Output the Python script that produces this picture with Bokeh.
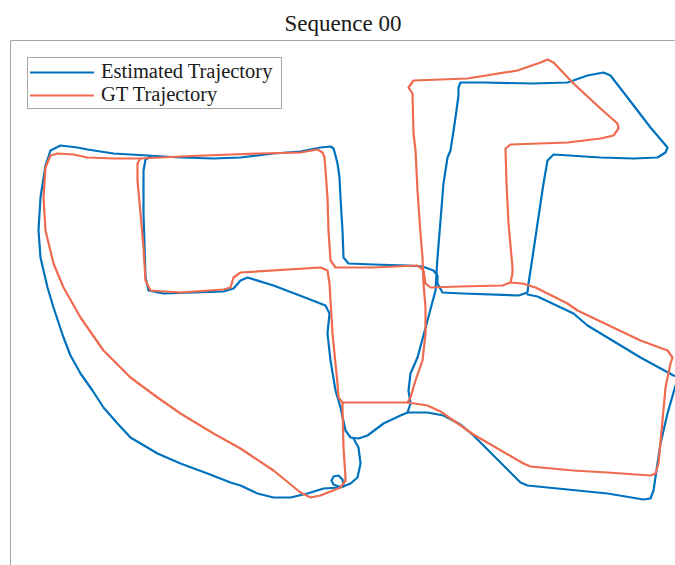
from bokeh.plotting import figure
from bokeh.models import ColumnDataSource, Range1d, Span
from bokeh.embed import file_html
from bokeh.resources import INLINE

# ---- Estimated trajectory (x, z in metres) ----
est_outer_x = [13, 18, 20, 17, 10, 0, -17, -33, -50, -67, -83, -100, -110, -133, -160, -183, -210, -223, -237, -248,
               -260, -270, -277,
               -287, -293, -300, -302, -300, -295, -290, -280, -263, -253, -227, -193, -160, -127, -100, -67, -40, -20,
               -10, -7, -5, -3, -1, 0, 2, 3, 8, 33, 67, 82, 93, 97, 97, 102, 122, 178, 187, 188, 192, 197, 203, 207,
               213, 260, 293, 317, 325, 327, 310, 287, 270, 263, 247, 227, 193, 143, 120, 118, 118, 115, 112, 110, 107,
               103, 100, 97, 96, 95, 87, 77, 70, 68, 70, 67]
est_outer_y = [52, 43, 27, 13, 7, 3, 2, -3, -7, -7, -3, 5, 8, 17, 27, 37, 53, 67, 83, 100,
               117, 135, 153,
               183, 203, 233, 260, 293, 325, 340, 345, 343, 341, 337, 335, 333, 332, 333, 337, 339, 343,
               344, 342, 335, 327, 313, 293, 260, 233, 227, 226, 225, 224, 220, 215, 207, 198, 197, 195, 198, 207,
               233, 267, 307, 330, 336, 333, 332, 333, 338, 343, 363, 393, 415, 418, 415, 408, 407, 408, 408, 403,
               395, 373, 353, 340, 333, 307, 270, 233, 217, 200, 170, 133, 117, 100, 87, 78]
est_inner_x = [-190, -195, -197, -197, -195, -192, -177, -117, -107, -100, -93, -67, -33, -15, -11, -13, -10, -5, 0,
               5, 10, 18, 27, 43, 60, 67, 87, 103, 120, 133, 180, 187, 217, 267, 303, 310, 313, 320, 327, 335, 343,
               333, 300, 247, 233, 197, 187]
est_inner_y = [334, 331, 320, 277, 213, 200, 197, 199, 202, 210, 213, 205, 192, 185, 177, 157, 130, 100, 83,
               60, 53, 52, 55, 67, 75, 78, 78, 75, 66, 55, 8, 5, 2, -3, -9, -8, 0, 47, 77, 105, 112,
               115, 133, 165, 177, 194, 196]
est_loop_x = [3, 2, -2, -7, -9, -7, -2, 3]
est_loop_y = [5, 11, 15, 14, 10, 6, 4, 4]

# ---- Ground-truth trajectory ----
gt_outer_x = [5, 0, -20, -30, -40, -67, -100, -127, -160, -183, -210, -237, -260, -277, -287, -295, -297, -295, -290,
              -283, -267, -253, -227, -200, -160, -110, -80, -40, -23, -18, -16, -15, -13, -12, -10, -5, 33, 77, 83,
              85, 90, 120, 162, 170, 172, 172, 168, 166, 165, 170, 227, 260, 273, 278, 277, 260, 233, 213, 207, 200,
              177, 127, 73, 68, 72, 73, 75, 77, 80, 82, 83, 85, 85, 82, 75, 70, 67, 33, 2, -2, -3, -8, -11, -13, -20,
              -100, -107, -110, -117, -160, -190, -195, -197, -200, -203, -203, -200]
gt_outer_y = [10, 3, -5, -7, -2, 20, 42, 57, 77, 93, 113, 140, 173, 203, 227, 260, 293, 323, 335,
              337, 336, 333, 332, 332, 334, 336, 337, 338, 341, 338, 333, 320, 293, 260, 230, 223, 223, 225, 220,
              207, 203, 204, 205, 208, 217, 223, 267, 307, 342, 346, 348, 352, 355, 362, 367, 382, 407, 428, 431, 428,
              420, 412, 410, 403, 397, 357, 340, 300, 257, 233, 207, 183, 157, 130, 110, 93, 88, 88, 88, 93, 107, 157,
              207, 220, 223, 218, 213, 203, 201, 198, 200, 210, 243, 277, 310, 327, 332]
gt_mid_x = [2, 2, 3, 5, 5]
gt_mid_y = [88, 83, 43, 13, 10]
gt_east_x = [67, 87, 100, 133, 183, 190, 233, 267, 310, 315, 318, 322, 325, 330, 332, 327, 300, 237, 227, 195, 182, 170]
gt_east_y = [88, 85, 79, 56, 27, 24, 20, 18, 15, 17, 27, 70, 103, 127, 133, 140, 150, 180, 187, 203, 207, 208]

series_names = ["Estimated Trajectory", "GT Trajectory"]

BLUE = "#0072BD"
ORANGE = "#EF6A4E"
FRAME = "#4d4d4d"
SERIF = "'Liberation Serif', 'DejaVu Serif', serif"

p = figure(width=675, height=565, output_backend="svg", toolbar_location=None,
           x_range=Range1d(-330, 335), y_range=Range1d(-75, 450),
           x_axis_location=None, y_axis_location=None,
           min_border_left=10, min_border_right=0, min_border_bottom=0, min_border_top=40,
           title="Sequence 00")
p.grid.visible = False
p.outline_line_color = None
p.background_fill_color = "white"
p.border_fill_color = "white"

p.title.align = "center"
p.title.text_font = SERIF
p.title.text_font_size = "23px"
p.title.text_font_style = "normal"
p.title.text_color = "#1a1a1a"
p.title.standoff = 9

p.add_layout(Span(location=-330, dimension="height", line_color=FRAME, line_width=1))
p.add_layout(Span(location=450, dimension="width", line_color=FRAME, line_width=1))

est_src = ColumnDataSource(dict(xs=[est_outer_x, est_inner_x, est_loop_x],
                                ys=[est_outer_y, est_inner_y, est_loop_y]))
gt_src = ColumnDataSource(dict(xs=[gt_outer_x, gt_mid_x, gt_east_x],
                               ys=[gt_outer_y, gt_mid_y, gt_east_y]))

p.multi_line("xs", "ys", source=est_src, line_color=BLUE, line_width=2.2,
             line_join="round", line_cap="round", legend_label=series_names[0])
p.multi_line("xs", "ys", source=gt_src, line_color=ORANGE, line_width=2.2,
             line_join="round", line_cap="round", legend_label=series_names[1])

lg = p.legend[0]
lg.location = "top_left"
lg.margin = 17
lg.padding = 2
lg.spacing = 0
lg.label_text_font = SERIF
lg.label_text_font_size = "20.5px"
lg.label_text_color = "#1a1a1a"
lg.glyph_width = 64
lg.glyph_height = 20
lg.label_height = 20
lg.label_width = 178
lg.label_standoff = 7
lg.border_line_color = FRAME
lg.border_line_width = 1
lg.background_fill_alpha = 1.0

open("out.html", "w").write(file_html(p, INLINE))
